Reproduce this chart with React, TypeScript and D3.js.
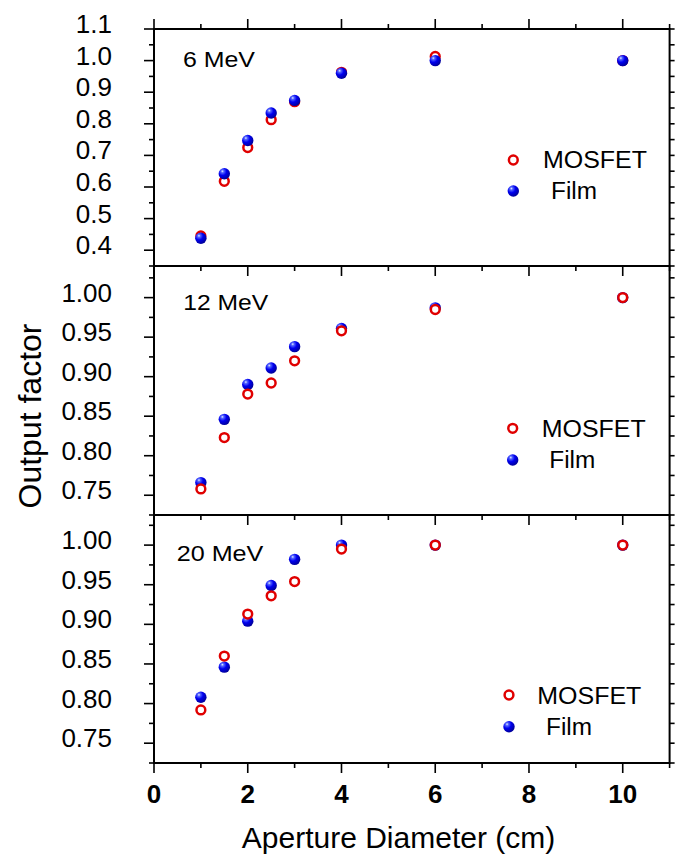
import React from "react";
import * as d3 from "d3";

// ---- data ----
const apertures = [1, 1.5, 2, 2.5, 3, 4, 6, 10];
const mosfet6 = [0.445, 0.618, 0.725, 0.813, 0.870, 0.963, 1.013, 1.0];
const film6 = [0.438, 0.642, 0.747, 0.834, 0.874, 0.960, 1.0, 1.0];
const mosfet12 = [0.758, 0.823, 0.878, 0.892, 0.920, 0.958, 0.985, 1.0];
const film12 = [0.766, 0.846, 0.890, 0.911, 0.938, 0.961, 0.987, 1.0];
const mosfet20 = [0.792, 0.860, 0.913, 0.936, 0.954, 0.995, 1.0, 1.0];
const film20 = [0.808, 0.846, 0.904, 0.949, 0.982, 1.0, 1.0, 1.0];

const energyLabels = ["6 MeV", "12 MeV", "20 MeV"];
const seriesNames = ["MOSFET", "Film"];
const xTickLabels = [0, 2, 4, 6, 8, 10];
const xMinorTicks = [1, 3, 5, 7, 9, 11];
const yTicksTop = [0.4, 0.5, 0.6, 0.7, 0.8, 0.9, 1.0, 1.1];
const yTicksLower = [0.75, 0.8, 0.85, 0.9, 0.95, 1.0];
const xTitle = "Aperture Diameter (cm)";
const yTitle = "Output factor";

// ---- layout ----
const W = 675;
const H = 858;
const left = 154;
const right = 669.6;
const FONT = "'Liberation Sans', Arial, Helvetica, sans-serif";

const x = d3.scaleLinear().domain([0, 11]).range([left, right]);

const panels = [
  {
    label: energyLabels[0], mosfet: mosfet6, film: film6, filmOnTop: true,
    top: 29, bottom: 266, domain: [0.35, 1.1], major: yTicksTop, minorStep: 0.05, fmt: d3.format(".1f"),
    labelPos: { x: 183, y: 66.7, w: 72 },
    leg: { mx: 513.3, my: 160, tx: 543, ty: 168.3, fy: 191, ftx: 551, fty: 199.3 },
    topTicks: true,
  },
  {
    label: energyLabels[1], mosfet: mosfet12, film: film12, filmOnTop: false,
    top: 266, bottom: 515, domain: [0.725, 1.04], major: yTicksLower, minorStep: 0.025, fmt: d3.format(".2f"),
    labelPos: { x: 183.3, y: 310, w: 85 },
    leg: { mx: 512.7, my: 428.3, tx: 541.7, ty: 436.7, fy: 460, ftx: 549.3, fty: 468.3 },
    topTicks: false,
  },
  {
    label: energyLabels[2], mosfet: mosfet20, film: film20, filmOnTop: false,
    top: 515, bottom: 763, domain: [0.725, 1.038], major: yTicksLower, minorStep: 0.025, fmt: d3.format(".2f"),
    labelPos: { x: 176.7, y: 561, w: 86.7 },
    leg: { mx: 509, my: 695, tx: 537.3, ty: 704, fy: 726.7, ftx: 546, fty: 735 },
    topTicks: false,
  },
];

const BLUE_R = 5.7;
const RED_R = 4.4;

function Film({ cx, cy }: { cx: number; cy: number }) {
  return <circle cx={cx} cy={cy} r={BLUE_R} fill="url(#sphere)" />;
}
function Mosfet({ cx, cy }: { cx: number; cy: number }) {
  return <circle cx={cx} cy={cy} r={RED_R} fill="#ffffff" stroke="#e00000" strokeWidth={2.5} />;
}

function Panel({ p }: { p: (typeof panels)[number] }) {
  const y = d3.scaleLinear().domain(p.domain).range([p.bottom, p.top]);
  const minors: number[] = [];
  for (let v = Math.ceil(p.domain[0] / p.minorStep - 1e-6) * p.minorStep; v <= p.domain[1] + 1e-9; v += p.minorStep) {
    minors.push(+v.toFixed(4));
  }
  const isMajor = (v: number) => p.major.some((m) => Math.abs(m - v) < 1e-6);
  const filmMarks = p.film.map((v, i) => <Film key={"f" + i} cx={x(apertures[i])} cy={y(v)} />);
  const mosMarks = p.mosfet.map((v, i) => <Mosfet key={"m" + i} cx={x(apertures[i])} cy={y(v)} />);
  return (
    <g>
      {/* left ticks */}
      {minors.map((v) => (
        <line key={"lt" + v} x1={left} x2={left - (isMajor(v) ? 10 : 5)} y1={y(v)} y2={y(v)} stroke="#000" strokeWidth={1.6} />
      ))}
      {/* right ticks */}
      {minors.map((v) => (
        <line key={"rt" + v} x1={right} x2={right + 5} y1={y(v)} y2={y(v)} stroke="#000" strokeWidth={1.6} />
      ))}
      {/* y labels */}
      {p.major.map((v) => (
        <text key={"yl" + v} x={112} y={y(v) + 4} textAnchor="end" fontSize={26} fontFamily={FONT} fill="#000">
          {p.fmt(v)}
        </text>
      ))}
      {/* bottom ticks (outward) */}
      {xTickLabels.map((v) => (
        <line key={"bt" + v} x1={x(v)} x2={x(v)} y1={p.bottom} y2={p.bottom + 10} stroke="#000" strokeWidth={1.6} />
      ))}
      {xMinorTicks.map((v) => (
        <line key={"bm" + v} x1={x(v)} x2={x(v)} y1={p.bottom} y2={p.bottom + 5} stroke="#000" strokeWidth={1.6} />
      ))}
      {p.topTicks &&
        xTickLabels.map((v) => (
          <line key={"tt" + v} x1={x(v)} x2={x(v)} y1={p.top} y2={p.top - 10} stroke="#000" strokeWidth={1.6} />
        ))}
      {p.topTicks &&
        xMinorTicks.map((v) => (
          <line key={"tm" + v} x1={x(v)} x2={x(v)} y1={p.top} y2={p.top - 5} stroke="#000" strokeWidth={1.6} />
        ))}
      {/* frame */}
      <rect x={left} y={p.top} width={right - left} height={p.bottom - p.top} fill="none" stroke="#000" strokeWidth={2} />
      {/* panel label */}
      <text x={p.labelPos.x} y={p.labelPos.y} fontSize={22} fontFamily={FONT} textLength={p.labelPos.w} lengthAdjust="spacingAndGlyphs">
        {p.label}
      </text>
      {/* data */}
      {p.filmOnTop ? (
        <g>
          {mosMarks}
          {filmMarks}
        </g>
      ) : (
        <g>
          {filmMarks}
          {mosMarks}
        </g>
      )}
      {/* legend */}
      <Mosfet cx={p.leg.mx} cy={p.leg.my} />
      <text x={p.leg.tx} y={p.leg.ty} fontSize={23} fontFamily={FONT} textLength={104} lengthAdjust="spacingAndGlyphs">
        {seriesNames[0]}
      </text>
      <Film cx={p.leg.mx} cy={p.leg.fy} />
      <text x={p.leg.ftx} y={p.leg.fty} fontSize={23} fontFamily={FONT} textLength={46} lengthAdjust="spacingAndGlyphs">
        {seriesNames[1]}
      </text>
    </g>
  );
}

export default function App() {
  const bottom = panels[2].bottom;
  return (
    <svg width={W} height={H} style={{ position: "absolute", left: 0, top: 0, background: "#fff" }}>
      <defs>
        <radialGradient id="sphere" cx="35%" cy="32%" r="70%" fx="33%" fy="28%">
          <stop offset="0%" stopColor="#e8eeff" />
          <stop offset="18%" stopColor="#5566ff" />
          <stop offset="50%" stopColor="#0000f0" />
          <stop offset="100%" stopColor="#000098" />
        </radialGradient>
      </defs>
      <rect x={0} y={0} width={W} height={H} fill="#fff" />
      {panels.map((p, i) => (
        <Panel key={i} p={p} />
      ))}
      {xTickLabels.map((v) => (
        <text key={"xl" + v} x={x(v)} y={802.7} textAnchor="middle" fontSize={26} fontWeight="bold" fontFamily={FONT}>
          {v}
        </text>
      ))}
      <text x={398.5} y={848} textAnchor="middle" fontSize={30} fontFamily={FONT}>
        {xTitle}
      </text>
      <text transform={`translate(41, 416) rotate(-90)`} textAnchor="middle" fontSize={32} fontFamily={FONT}>
        {yTitle}
      </text>
    </svg>
  );
}
